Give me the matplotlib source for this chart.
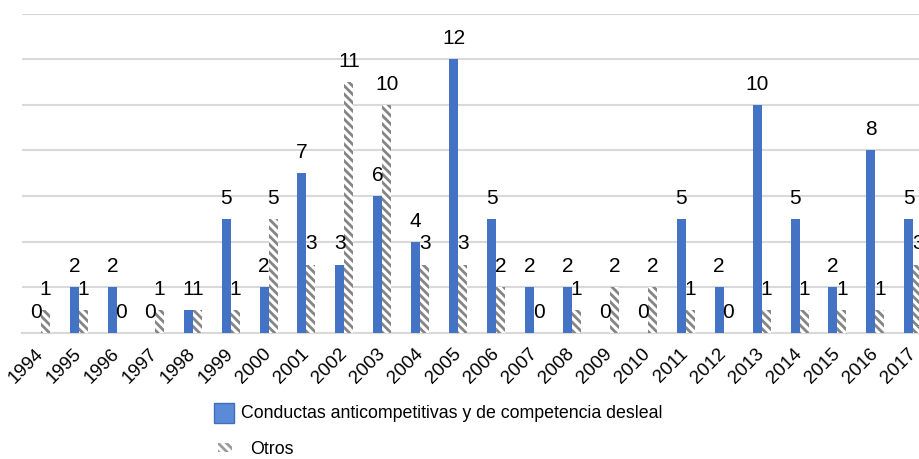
import matplotlib
matplotlib.use("Agg")
import matplotlib.pyplot as plt
from matplotlib.patches import Rectangle
import numpy as np

years = [str(y) for y in range(1994, 2018)]
conductas = [0, 2, 2, 0, 1, 5, 2, 7, 3, 6, 4, 12, 5, 2, 2, 0, 0, 5, 2, 10, 5, 2, 8, 5]
otros = [1, 1, 0, 1, 1, 1, 5, 3, 11, 10, 3, 3, 2, 0, 1, 2, 2, 1, 0, 1, 1, 1, 1, 3]
series_names = ["Conductas anticompetitivas y de competencia desleal", "Otros"]

FONT = ['Liberation Sans', 'DejaVu Sans']
plt.rcParams['font.family'] = FONT
plt.rcParams['hatch.linewidth'] = 2.0

W, H = 920, 459
fig = plt.figure(figsize=(W / 100, H / 100), dpi=100)

left_px, base_px, top_px = 22, 333, 13.5
spacing = 37.93
ax = fig.add_axes([left_px / W, (H - base_px) / H, (W - left_px) / W, (base_px - top_px) / H])

x = np.arange(len(years))
bw = 9 / spacing
blue = '#4472C4'
b1 = ax.bar(x - bw / 2, conductas, width=bw, color=blue, linewidth=0, zorder=3)
b2 = ax.bar(x + bw / 2, otros, width=bw, color='white', edgecolor='#858585',
            hatch='\\\\\\\\', linewidth=0, zorder=3)

for bars, vals in ((b1, conductas), (b2, otros)):
    for r, v in zip(bars, vals):
        ax.annotate(str(v), (r.get_x() + r.get_width() / 2, v), xytext=(0, 8),
                    textcoords='offset points', ha='center', va='bottom',
                    fontsize=15, color='black', zorder=4)

ax.set_ylim(0, 14)
ax.set_yticks(np.arange(0, 15, 2))
ax.set_yticklabels([])
ax.tick_params(axis='y', length=0)
xmax = (W - left_px) / spacing - 0.5
ax.set_xlim(-0.5, xmax)
ax.set_xticks(x)
ax.set_xticklabels(years, rotation=45, ha='right', va='center', rotation_mode='anchor', fontsize=13.5)
ax.tick_params(axis='x', length=0, pad=13)
ax.grid(axis='y', color='#d9d9d9', linewidth=1.5, zorder=0)
for s in ('left', 'right', 'top'):
    ax.spines[s].set_visible(False)
ax.spines['bottom'].set_color('#d9d9d9')
ax.spines['bottom'].set_linewidth(1.5)

def fx(px):
    return px / W

def fy(py):
    return 1 - py / H

# legend
fig.patches.append(Rectangle((fx(214), fy(423)), 20 / W, 20 / H, transform=fig.transFigure,
                             facecolor='#5B8BD8', edgecolor='#3F6FB8', linewidth=1))
fig.text(fx(241), fy(413), series_names[0], ha='left', va='center', fontsize=12.8)
fig.patches.append(Rectangle((fx(218), fy(452)), 14 / W, 9 / H, transform=fig.transFigure,
                             facecolor='white', edgecolor='#9a9a9a', hatch='\\\\\\\\', linewidth=0))
fig.text(fx(250), fy(450), series_names[1], ha='left', va='center', fontsize=12.8)

fig.savefig('out.png', dpi=100)
